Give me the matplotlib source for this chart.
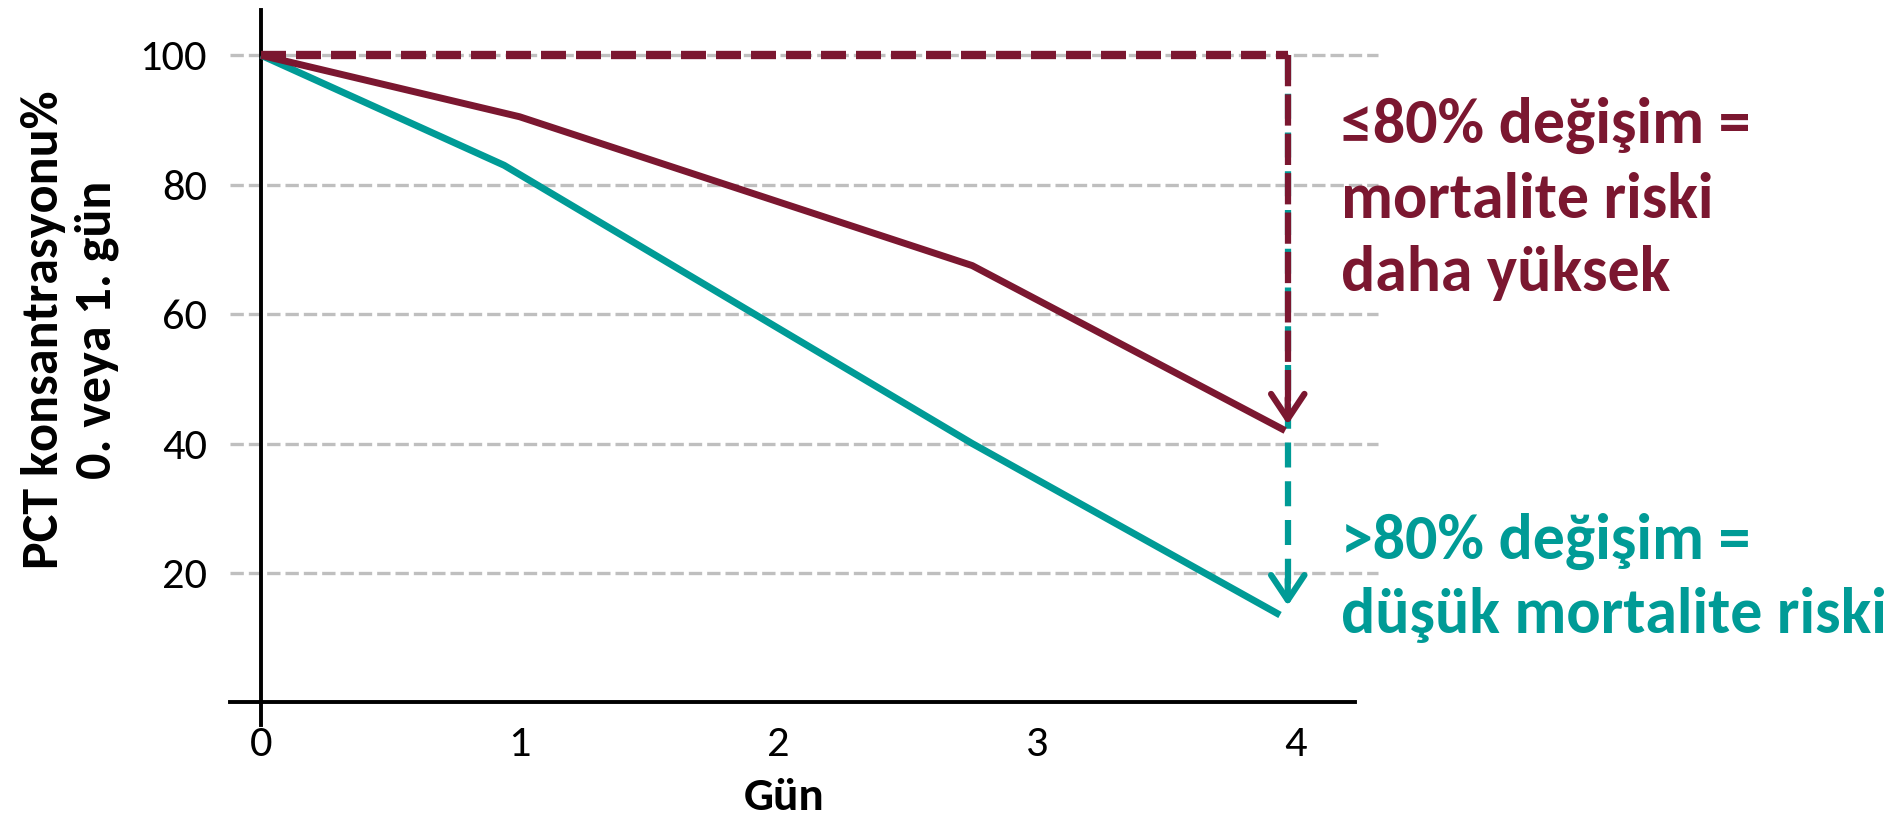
import matplotlib
matplotlib.use("Agg")
import matplotlib.pyplot as plt
from matplotlib import font_manager

# data
days_high = [0, 1.0, 2.75, 3.96]
pct_high = [100, 90.5, 67.5, 42.0]
days_low = [0, 0.94, 2.75, 3.94]
pct_low = [100, 83.0, 40.0, 13.5]
arrow_x = 3.97
arrow_high_tip = 42.5
arrow_low_tip = 14.5
xticks = [0, 1, 2, 3, 4]
yticks = [20, 40, 60, 80, 100]

text_high = "≤80% değişim =\nmortalite riski\ndaha yüksek"
text_low = ">80% değişim =\ndüşük mortalite riski"
ylabel = "PCT konsantrasyonu%\n0. veya 1. gün"
xlabel = "Gün"

MAROON = "#7B1730"
TEAL = "#009B96"
GRID = "#BFBFBF"

names = {f.name for f in font_manager.fontManager.ttflist}
font = "DejaVu Sans"
for cand in ["Carlito", "Liberation Sans Narrow", "Open Sans", "Liberation Sans"]:
    if cand in names:
        font = cand
        break
plt.rcParams["font.family"] = [font, "DejaVu Sans"]

W, H = 1894, 819
fig = plt.figure(figsize=(W / 100, H / 100), dpi=100)
ax = fig.add_axes([230 / W, 94 / H, 1125 / W, 715 / H])
ax.set_xlim(-0.12, 4.23)
ax.set_ylim(-3.5, 107)

# grid
ax.hlines(yticks, -0.12, 4.32, colors=GRID, lw=2.4, linestyles=(0, (4, 1.5)),
          clip_on=False, zorder=1)

# vertical dashed arrows
ax.plot([arrow_x, arrow_x], [100, arrow_low_tip + 2], color=TEAL, lw=4.5,
        dashes=(4, 2.2), zorder=3)
ax.annotate("", xy=(arrow_x, arrow_low_tip), xytext=(arrow_x, arrow_low_tip + 5),
            arrowprops=dict(arrowstyle="->,head_length=0.45,head_width=0.3",
                            color=TEAL, lw=4.5, mutation_scale=40), zorder=3)
ax.plot([arrow_x, arrow_x], [100, arrow_high_tip + 2], color=MAROON, lw=4.5,
        dashes=(5, 1.3), zorder=4)
ax.annotate("", xy=(arrow_x, arrow_high_tip), xytext=(arrow_x, arrow_high_tip + 5),
            arrowprops=dict(arrowstyle="->,head_length=0.45,head_width=0.3",
                            color=MAROON, lw=4.5, mutation_scale=40), zorder=4)

# data lines
ax.plot(days_low, pct_low, color=TEAL, lw=5, solid_capstyle="butt", zorder=3)
ax.plot(days_high, pct_high, color=MAROON, lw=5, solid_capstyle="butt", zorder=4)
ax.plot([0, arrow_x], [100, 100], color=MAROON, lw=6, dashes=(3, 1.2), zorder=5)

# axes styling
for s in ["top", "right"]:
    ax.spines[s].set_visible(False)
ax.spines["left"].set_position(("data", 0))
ax.spines["bottom"].set_position(("data", 0))
ax.spines["left"].set_linewidth(2.8)
ax.spines["bottom"].set_linewidth(2.8)
ax.set_xticks(xticks)
ax.set_yticks(yticks)
ax.tick_params(axis="y", length=0, pad=39, labelsize=32)
ax.tick_params(axis="x", length=0, pad=17, labelsize=32)

fig.text(70 / W, 1 - 330 / H, ylabel, rotation=90, ha="center", va="center",
         fontsize=37.5, fontweight="bold", linespacing=1.2)
fig.text(784 / W, 1 - 797 / H, xlabel, ha="center", va="center",
         fontsize=34, fontweight="bold")

fig.text(1341 / W, 1 - 199 / H, text_high, ha="left", va="center", color=MAROON,
         fontsize=46, fontweight="bold", linespacing=1.38)
fig.text(1341 / W, 1 - 578 / H, text_low, ha="left", va="center", color=TEAL,
         fontsize=46, fontweight="bold", linespacing=1.38)

fig.savefig("out.png", dpi=100)
